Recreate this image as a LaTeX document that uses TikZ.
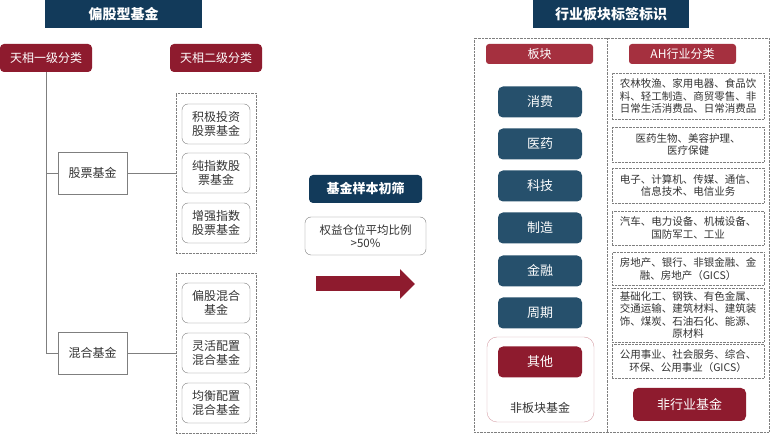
\documentclass[tikz,border=0pt]{standalone}
\usepackage{fontspec}
\setmainfont{Noto Sans CJK SC}
\usetikzlibrary{arrows.meta}

\definecolor{navytitle}{HTML}{123A5A}
\definecolor{navyblock}{HTML}{26506C}
\definecolor{darkred}{HTML}{8E1B2E}
\definecolor{headred}{HTML}{A5303F}
\definecolor{pinkline}{HTML}{D7A3AA}
\definecolor{greyline}{HTML}{7F7F7F}
\definecolor{greytext}{HTML}{333333}

\begin{document}
\begin{tikzpicture}[
    x=1pt, y=-1pt,
    % Block styles
    titlebox/.style={
        rectangle,
        fill=navytitle,
        text=white,
        minimum width=157pt,
        minimum height=28pt,
        font=\fontsize{14}{16}\selectfont\bfseries
    },
    catbox/.style={
        rectangle,
        fill=darkred,
        text=white,
        minimum width=92pt,
        minimum height=28pt,
        rounded corners=4pt,
        font=\fontsize{12}{14}\selectfont
    },
    fundbox/.style={
        rectangle,
        draw=greyline,
        text=greytext,
        minimum width=69pt,
        minimum height=42pt,
        font=\fontsize{12}{14}\selectfont
    },
    groupbox/.style={
        rectangle,
        draw=greyline,
        densely dotted,
        minimum width=80pt,
        minimum height=160pt
    },
    subbox/.style={
        rectangle,
        draw=greyline,
        text=greytext,
        rounded corners=6pt,
        minimum width=68pt,
        minimum height=40pt,
        align=center,
        font=\fontsize{12}{14}\selectfont
    },
    screenbox/.style={
        rectangle,
        fill=navytitle,
        text=white,
        rounded corners=4pt,
        minimum width=113pt,
        minimum height=28pt,
        font=\fontsize{13}{15}\selectfont\bfseries
    },
    criteriabox/.style={
        rectangle,
        draw=greyline,
        text=greytext,
        rounded corners=6pt,
        minimum width=121pt,
        minimum height=38pt,
        align=center,
        font=\fontsize{11.5}{13.5}\selectfont
    },
    framebox/.style={
        rectangle,
        draw=greyline,
        densely dotted,
        minimum width=295pt,
        minimum height=394pt
    },
    headbox/.style={
        rectangle,
        fill=headred,
        text=white,
        rounded corners=3pt,
        minimum width=107pt,
        minimum height=20pt,
        font=\fontsize{12}{14}\selectfont
    },
    sectorbox/.style={
        rectangle,
        fill=navyblock,
        text=white,
        rounded corners=5pt,
        minimum width=84pt,
        minimum height=31pt,
        font=\fontsize{13}{15}\selectfont
    },
    redblock/.style={
        rectangle,
        fill=darkred,
        text=white,
        rounded corners=5pt,
        minimum width=84pt,
        minimum height=31pt,
        font=\fontsize{13}{15}\selectfont
    },
    otherframe/.style={
        rectangle,
        draw=pinkline,
        rounded corners=10pt,
        minimum width=107pt,
        minimum height=85pt
    },
    industrybox/.style={
        rectangle,
        draw=greyline,
        densely dotted,
        text=greytext,
        minimum width=152pt,
        align=center,
        inner sep=0pt,
        font=\fontsize{10.5}{12.5}\selectfont
    },
    link/.style={draw=greyline, semithick},
    frameline/.style={draw=greyline, densely dotted},
    bigarrow/.style={draw=darkred, line width=15pt, -{Triangle[width=29pt, length=15pt]}}
]

% Page
\fill[white] (0,0) rectangle (777,443);
\useasboundingbox (0,0) rectangle (777,443);

% Equity fund classification
\node[titlebox] (equitytitle) at (123.5,14) {偏股型基金};
\node[catbox] (level1) at (46,58) {天相一级分类};
\node[catbox] (level2) at (216,58) {天相二级分类};

\node[fundbox] (stock) at (92.5,173) {股票基金};
\node[fundbox] (hybrid) at (92.5,353) {混合基金};

\node[groupbox] (stockgroup) at (216,173) {};
\node[subbox] (active) at (216,124) {积极投资\\股票基金};
\node[subbox] (index) at (216,173) {纯指数股\\票基金};
\node[subbox] (enhanced) at (216,223) {增强指数\\股票基金};

\node[groupbox] (hybridgroup) at (216,353) {};
\node[subbox] (equityhybrid) at (216,303) {偏股混合\\基金};
\node[subbox] (flexible) at (216,353) {灵活配置\\混合基金};
\node[subbox] (balanced) at (216,403) {均衡配置\\混合基金};

% Connections
\draw[link] (level1.south) |- (hybrid.west);
\draw[link] (level1.south |- stock.west) -- (stock.west);
\draw[link] (stock.east) -- (stockgroup.west);
\draw[link] (hybrid.east) -- (hybridgroup.west);

% Sample screening
\node[screenbox] (screen) at (365.5,189) {基金样本初筛};
\node[criteriabox] (criteria) at (365.5,236) {权益仓位平均比例\\>50\%};
\coordinate (arrowtail) at (316,284);
\coordinate (arrowtip) at (415,284);
\draw[bigarrow] (arrowtail) -- (arrowtip);

% Industry sector labels
\node[titlebox, minimum width=156pt] (industrytitle) at (611,14) {行业板块标签标识};
\node[framebox] (industryframe) at (621.5,235) {};
\coordinate (dividertop) at (607,38);
\coordinate (dividerbottom) at (607,432);
\draw[frameline] (dividertop) -- (dividerbottom);

\node[headbox] (sectorhead) at (539.5,54) {板块};
\node[headbox] (ahhead) at (682.5,54) {AH行业分类};

\node[sectorbox] (consumer) at (540,102) {消费};
\node[sectorbox] (medical) at (540,144) {医药};
\node[sectorbox] (tech) at (540,186) {科技};
\node[sectorbox] (manufacture) at (540,228) {制造};
\node[sectorbox] (finance) at (540,271) {金融};
\node[sectorbox] (cyclical) at (540,313) {周期};

\node[otherframe] (nonsector) at (540.5,379.5) {};
\node[redblock] (other) at (540,362) {其他};
\node[text=greytext, font=\fontsize{12}{14}\selectfont] (nonsectorlabel) at (540,408) {非板块基金};

\node[industrybox, minimum height=46pt] (consumerind) at (688,96) {农林牧渔、家用电器、食品饮\\料、轻工制造、商贸零售、非\\日常生活消费品、日常消费品};
\node[industrybox, minimum height=35pt] (medicalind) at (688,144.5) {医药生物、美容护理、\\医疗保健};
\node[industrybox, minimum height=35pt] (techind) at (688,185.5) {电子、计算机、传媒、通信、\\信息技术、电信业务};
\node[industrybox, minimum height=34pt] (manufactureind) at (688,228) {汽车、电力设备、机械设备、\\国防军工、工业};
\node[industrybox, minimum height=33pt] (financeind) at (688,269) {房地产、银行、非银金融、金\\融、房地产（GICS）};
\node[industrybox, minimum height=54pt] (cyclicalind) at (688,315) {基础化工、钢铁、有色金属、\\交通运输、建筑材料、建筑装\\饰、煤炭、石油石化、能源、\\原材料};
\node[industrybox, minimum height=34pt] (otherind) at (688,361) {公用事业、社会服务、综合、\\环保、公用事业（GICS）};

\node[redblock, minimum width=113pt, minimum height=33pt] (nonindustry) at (689.5,404.5) {非行业基金};

\end{tikzpicture}
\end{document}
